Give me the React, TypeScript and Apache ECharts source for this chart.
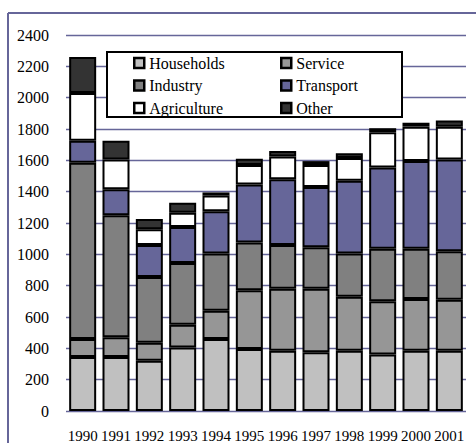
import React, { useEffect, useRef } from "react";
import * as echarts from "echarts";

const years = ["1990","1991","1992","1993","1994","1995","1996","1997","1998","1999","2000","2001"];
const households = [345, 345, 320, 405, 460, 395, 385, 375, 385, 360, 385, 385];
const service = [115, 125, 115, 145, 180, 375, 395, 405, 345, 340, 330, 325];
const industry = [1125, 780, 420, 395, 365, 305, 280, 265, 275, 335, 320, 310];
const transport = [140, 165, 205, 230, 270, 370, 420, 385, 465, 520, 560, 585];
const agriculture = [305, 190, 100, 90, 100, 125, 145, 140, 145, 225, 220, 210];
const other = [230, 120, 65, 65, 20, 40, 35, 25, 30, 25, 25, 40];

const seriesDefs = [
  { name: "Households", data: households, color: "#C0C0C0" },
  { name: "Service", data: service, color: "#969696" },
  { name: "Industry", data: industry, color: "#808080" },
  { name: "Transport", data: transport, color: "#666699" },
  { name: "Agriculture", data: agriculture, color: "#FFFFFF" },
  { name: "Other", data: other, color: "#333333" },
];

const font = "Liberation Serif";

export default function App() {
  const ref = useRef<HTMLDivElement>(null);
  useEffect(() => {
    if (!ref.current) return;
    const chart = echarts.init(ref.current, null, { renderer: "svg" });
    const legendCommon = {
      orient: "vertical",
      top: 50,
      itemWidth: 10,
      itemHeight: 10,
      itemGap: 6.5,
      icon: "rect",
      selectedMode: false,
      itemStyle: { borderColor: "#000", borderWidth: 2.5 },
      textStyle: { fontFamily: font, fontSize: 16, color: "#000", lineHeight: 15, padding: [0, 0, 0, 0] },
      z: 5,
    };
    chart.setOption({
      animation: false,
      backgroundColor: "#fff",
      grid: { left: 66, right: 10, top: 35, bottom: 32, containLabel: false },
      legend: [
        { ...legendCommon, left: 128, data: ["Households", "Industry", "Agriculture"] },
        { ...legendCommon, left: 275, data: ["Service", "Transport", "Other"] },
      ],
      xAxis: {
        type: "category",
        data: years,
        axisLine: { show: false },
        axisTick: { show: false },
        axisLabel: { interval: 0, margin: 17, fontFamily: font, fontSize: 15, color: "#000" },
      },
      yAxis: {
        type: "value",
        min: 0,
        max: 2400,
        interval: 200,
        axisLine: { show: false },
        axisTick: { show: false },
        axisLabel: { margin: 17, fontFamily: font, fontSize: 16, color: "#000", formatter: (v: number) => String(v) },
        splitLine: { lineStyle: { color: "#666699", width: 1.3 } },
      },
      graphic: [
        {
          type: "rect",
          z: 3,
          shape: { x: 107, y: 52, width: 295, height: 65 },
          style: { fill: "#fff", stroke: "#000", lineWidth: 2 },
        },
        {
          type: "line",
          z: 3,
          shape: { x1: 8, y1: 13, x2: 476, y2: 13 },
          style: { stroke: "#666699", lineWidth: 2 },
        },
        {
          type: "line",
          z: 3,
          shape: { x1: 8, y1: 13, x2: 8, y2: 443 },
          style: { stroke: "#666699", lineWidth: 2 },
        },
      ],
      series: seriesDefs.map((s) => ({
        name: s.name,
        type: "bar",
        stack: "total",
        data: s.data,
        barWidth: 27,
        itemStyle: { color: s.color, borderColor: "#000", borderWidth: 2 },
      })),
    });
    return () => chart.dispose();
  }, []);
  return <div ref={ref} style={{ position: "fixed", left: 0, top: 0, width: 476, height: 443 }} />;
}
